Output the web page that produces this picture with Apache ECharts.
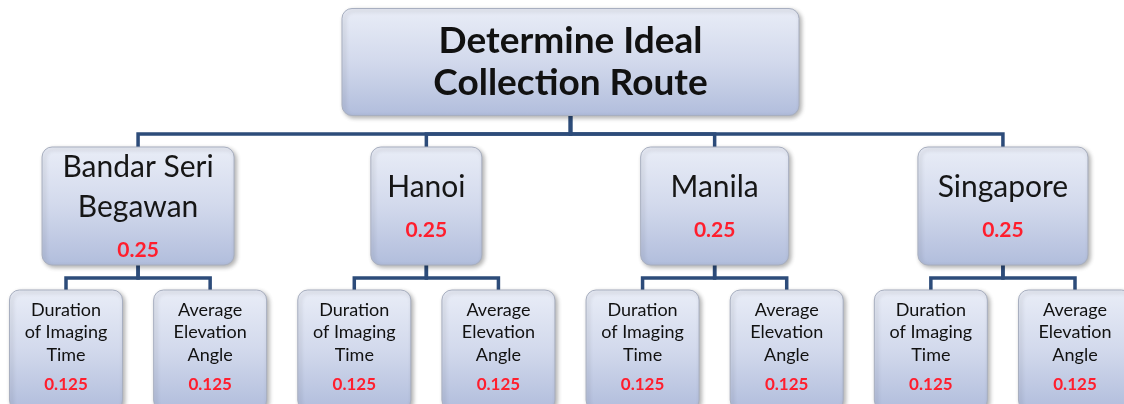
<!DOCTYPE html>
<html>
<head>
<meta charset="utf-8">
<script src="https://cdn.jsdelivr.net/npm/echarts@6/dist/echarts.min.js"></script>
<style>
  html, body { margin: 0; padding: 0; background: #ffffff; }
  #chart { width: 1124px; height: 404px; }
</style>
</head>
<body>
<div id="chart"></div>
<script>
// ---- data ----
const rootLabel = 'Determine Ideal\nCollection Route';
const cities = ['Bandar Seri\nBegawan', 'Hanoi', 'Manila', 'Singapore'];
const cityWeights = [0.25, 0.25, 0.25, 0.25];
const criteria = ['Duration\nof Imaging\nTime', 'Average\nElevation\nAngle'];
const criteriaWeights = [
  [0.125, 0.125],
  [0.125, 0.125],
  [0.125, 0.125],
  [0.125, 0.125]
];

// ---- styles (box sizes per level) ----
const rootBox = { w: 457, h: 107 };
const cityBoxW = [192, 111, 148, 170];
const cityBoxH = 118;
const leafBox = { w: 113, h: 120 };
const FONT = 'Lato, "Open Sans", "Noto Sans", sans-serif';
const EDGE_COLOR = '#2d4c7a';
const RED = '#ff1e2d';

// ---- build hierarchy (layout computed from tree structure) ----
const nodes = [];
const edges = [];
const cityNodes = [];
cities.forEach((city, c) => {
  const leafX = [];
  criteria.forEach((crit, k) => {
    const x = c * criteria.length + k;
    leafX.push(x);
    nodes.push({ kind: 'leaf', label: crit, weight: criteriaWeights[c][k], x: x, level: 2, w: leafBox.w, h: leafBox.h });
  });
  const cx = leafX.reduce((a, b) => a + b, 0) / leafX.length;
  cityNodes.push({ kind: 'city', label: city, weight: cityWeights[c], x: cx, level: 1, w: cityBoxW[c], h: cityBoxH });
  leafX.forEach(lx => edges.push([cx, 1, lx, 2]));
});
const rootX = cityNodes.reduce((a, n) => a + n.x, 0) / cityNodes.length;
cityNodes.forEach(n => edges.push([rootX, 0, n.x, 1]));
nodes.push(...cityNodes);
nodes.push({ kind: 'root', label: rootLabel, x: rootX, level: 0, w: rootBox.w, h: rootBox.h });

function labelFor(node) {
  if (node.kind === 'root') {
    return { text: '{r|' + node.label.split('\n').join('}\n{r|') + '}', dy: 0 };
  }
  if (node.kind === 'city') {
    return { text: '{c|' + node.label.split('\n').join('}\n{c|') + '}\n{cw|' + node.weight + '}', dy: 4 };
  }
  return { text: '{l|' + node.label.split('\n').join('}\n{l|') + '}\n{lw|' + node.weight + '}', dy: 1 };
}

const rich = {
  r: { fontFamily: FONT, fontSize: 37, fontWeight: 'bold', fill: '#111111', lineHeight: 42 },
  c: { fontFamily: FONT, fontSize: 30, fill: '#161616', lineHeight: 40 },
  cw: { fontFamily: FONT, fontSize: 21, fontWeight: 'bold', fill: RED, lineHeight: 46 },
  l: { fontFamily: FONT, fontSize: 18, fill: '#111111', lineHeight: 22.5 },
  lw: { fontFamily: FONT, fontSize: 17, fontWeight: 'bold', fill: RED, lineHeight: 37 }
};

const chart = echarts.init(document.getElementById('chart'));
const option = {
  animation: false,
  backgroundColor: '#ffffff',
  grid: { left: 66, right: 49, top: 62, bottom: 54 },
  xAxis: { type: 'value', min: 0, max: 7, show: false },
  yAxis: { type: 'value', min: 0, max: 2, inverse: true, show: false },
  series: [
    {
      type: 'custom',
      z: 1,
      silent: true,
      data: edges,
      renderItem: function (params, api) {
        const px = api.value(0), pl = api.value(1), cx = api.value(2), cl = api.value(3);
        const mid = (pl + cl) / 2;
        const pts = [
          api.coord([px, pl]),
          api.coord([px, mid]),
          api.coord([cx, mid]),
          api.coord([cx, cl])
        ];
        return {
          type: 'polyline',
          shape: { points: pts },
          style: { stroke: EDGE_COLOR, lineWidth: 3.5, fill: null, lineJoin: 'miter' }
        };
      }
    },
    {
      type: 'custom',
      z: 2,
      silent: true,
      data: nodes.map((n, i) => [n.x, n.level, i]),
      renderItem: function (params, api) {
        const node = nodes[api.value(2)];
        const c = api.coord([api.value(0), api.value(1)]);
        const lab = labelFor(node);
        return {
          type: 'group',
          children: [
            {
              type: 'rect',
              shape: { x: c[0] - node.w / 2, y: c[1] - node.h / 2, width: node.w, height: node.h, r: 10 },
              style: {
                fill: new echarts.graphic.LinearGradient(0, 0, 0, 1, [
                  { offset: 0, color: '#e9edf7' },
                  { offset: 0.5, color: '#d2d9ec' },
                  { offset: 1, color: '#b1bddc' }
                ]),
                stroke: '#a8afc0',
                lineWidth: 1,
                shadowBlur: 4,
                shadowOffsetX: 2,
                shadowOffsetY: 2,
                shadowColor: 'rgba(0,0,0,0.3)'
              }
            },
            {
              type: 'text',
              x: c[0],
              y: c[1] + lab.dy,
              style: {
                text: lab.text,
                rich: rich,
                align: 'center',
                verticalAlign: 'middle'
              }
            }
          ]
        };
      }
    }
  ]
};
chart.setOption(option);
</script>
</body>
</html>
